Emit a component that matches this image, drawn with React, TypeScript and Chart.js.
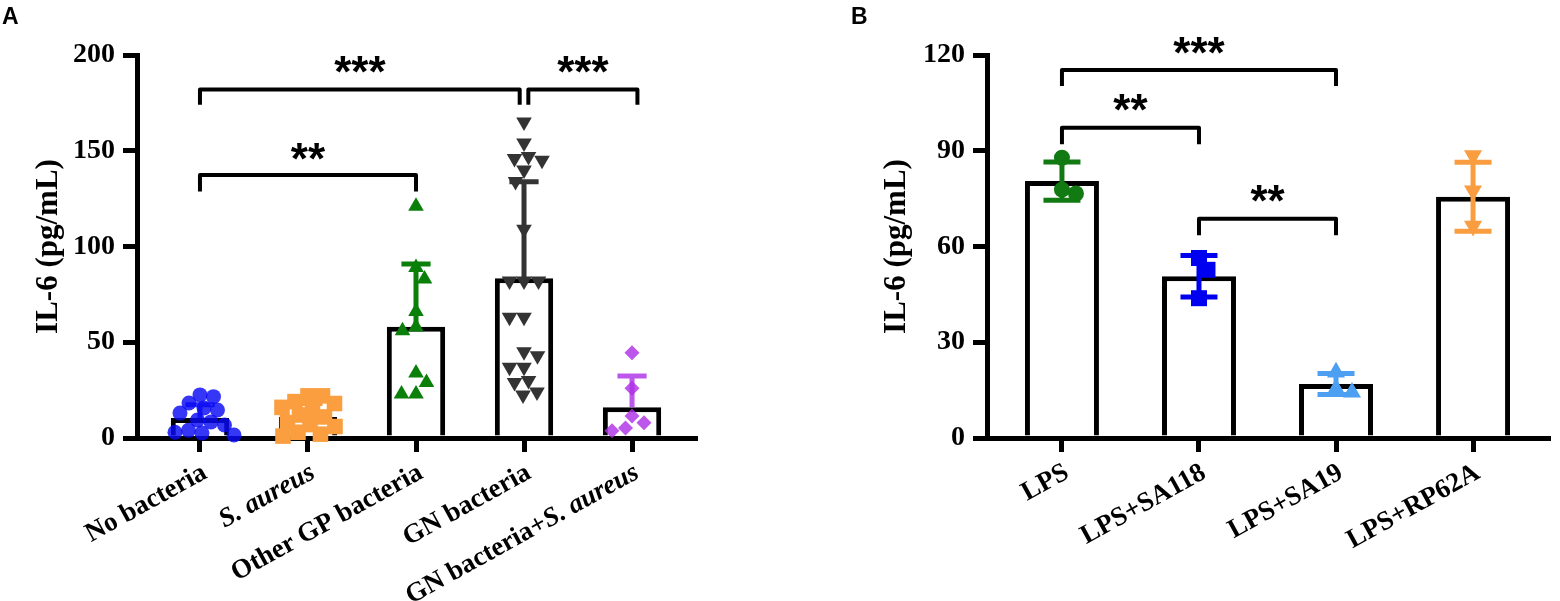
import { useEffect, useRef } from 'react';
import { Chart, registerables } from 'chart.js';
import type { Plugin, PointStyle } from 'chart.js';

Chart.register(...registerables);

// ---- Panel A: IL-6 by bacterial group ----
const CATEGORIES_A = ['No bacteria', 'S. aureus', 'Other GP bacteria', 'GN bacteria', 'GN bacteria+S. aureus'];
const NO_BACTERIA = [22.5, 21.6, 18.3, 15.7, 14.6, 13, 9.4, 8.4, 6.8, 4, 3, 2.6, 1.6];
const S_AUREUS = [22, 22, 19, 18, 16, 15, 12, 11, 8, 7, 6, 3, 2, 1];
const OTHER_GP = [121, 89, 83, 66, 58, 56, 34, 29, 23, 23];
const GN_BACTERIA = [165, 154, 147, 146, 145, 140, 134, 109, 82, 82, 82, 63, 63, 45, 43, 37, 37, 30, 29, 24, 22.5];
const GN_PLUS_SA = [44.5, 26, 11.5, 8, 5.2, 3.8];
const MEAN_A = [10.4, 11, 58.1, 83.4, 16];
const SD_A = [7, 7, 32.8, 50.4, 16.4];
const Y_TICKS_A = [0, 50, 100, 150, 200];
const BRACKETS_A = [
  { from: 0, to: 2.96, top: 182, leg: 174, stars: '***', starY: 194.8 },
  { from: 3.04, to: 4.05, top: 182, leg: 174, stars: '***', starY: 194.8 },
  { from: 0, to: 2, top: 137.4, leg: 128.7, stars: '**', starY: 149.6 },
];

// ---- Panel B: IL-6 with LPS ----
const CATEGORIES_B = ['LPS', 'LPS+SA118', 'LPS+SA19', 'LPS+RP62A'];
const LPS = [87.8, 76.6, 77.8];
const LPS_SA118 = [56.4, 52.7, 43.8];
const LPS_SA19 = [20.6, 14.3, 15.4];
const LPS_RP62A = [88.5, 77.5, 66.4];
const MEAN_B = [80.5, 50.7, 16.9, 75.6];
const SD_B = [6, 6.5, 3.3, 10.8];
const Y_TICKS_B = [0, 30, 60, 90, 120];
const BRACKETS_B = [
  { from: 0, to: 2, top: 115.3, leg: 110.3, stars: '***', starY: 123 },
  { from: 0, to: 1, top: 97.2, leg: 92, stars: '**', starY: 105 },
  { from: 1, to: 2, top: 68.7, leg: 63.5, stars: '**', starY: 76.6 },
];

const ITALIC_TERM = 'S. aureus';
const SERIF = '"Liberation Serif", "Times New Roman", serif';
const SANS = '"Liberation Sans", Arial, sans-serif';
const PLOT_TOP = 55;
const PLOT_BOTTOM = 438;
const LINE = 5;

interface Bracket {
  from: number;
  to: number;
  top: number;
  leg: number;
  stars: string;
  starY: number;
}

interface PanelSpec {
  letter: string;
  left: number;
  width: number;
  axisLeft: number;
  axisRight: number;
  xPad: number;
  categories: string[];
  series: number[][];
  means: number[];
  sds: number[];
  yTicks: number[];
  brackets: Bracket[];
  bothSides: boolean;
  colors: string[];
  styles: PointStyle[];
  rotations: number[];
  radii: number[];
}

const PANEL_A: PanelSpec = {
  letter: 'A',
  left: 0,
  width: 720,
  axisLeft: 137,
  axisRight: 695,
  xPad: 0.583,
  categories: CATEGORIES_A,
  series: [NO_BACTERIA, S_AUREUS, OTHER_GP, GN_BACTERIA, GN_PLUS_SA],
  means: MEAN_A,
  sds: SD_A,
  yTicks: Y_TICKS_A,
  brackets: BRACKETS_A,
  bothSides: false,
  colors: ['rgba(10,10,245,0.82)', '#FA9E3F', '#0A7F0A', '#333333', 'rgba(175,50,230,0.82)'],
  styles: ['circle', 'rect', 'triangle', 'triangle', 'rectRot'],
  rotations: [0, 0, 0, 180, 0],
  radii: [7.5, 11, 9, 9, 7.5],
};

const PANEL_B: PanelSpec = {
  letter: 'B',
  left: 848,
  width: 712,
  axisLeft: 139,
  axisRight: 700,
  xPad: 0.547,
  categories: CATEGORIES_B,
  series: [LPS, LPS_SA118, LPS_SA19, LPS_RP62A],
  means: MEAN_B,
  sds: SD_B,
  yTicks: Y_TICKS_B,
  brackets: BRACKETS_B,
  bothSides: true,
  colors: ['#127A12', '#0000F0', '#4D9FF2', '#F99D40'],
  styles: ['circle', 'rect', 'triangle', 'triangle'],
  rotations: [0, 0, 0, 180],
  radii: [8, 11.3, 10.4, 10.4],
};

function labelParts(label: string) {
  const k = label.indexOf(ITALIC_TERM);
  if (k < 0) return [{ text: label, italic: false }];
  return [
    { text: label.slice(0, k), italic: false },
    { text: ITALIC_TERM, italic: true },
    { text: label.slice(k + ITALIC_TERM.length), italic: false },
  ].filter((p) => p.text);
}

function markerWidth(style: PointStyle, r: number) {
  if (style === 'rect') return 2 * r * Math.SQRT1_2;
  if (style === 'triangle') return r * Math.sqrt(3);
  return 2 * r;
}

// simple beeswarm: highest values first, each point as close to the centre as it fits
function swarm(values: number[], pxPerUnit: number, gap: number): number[] {
  const order = values.map((_, i) => i).sort((a, b) => values[b] - values[a]);
  const placed: [number, number][] = [];
  const out = values.map(() => 0);
  for (const i of order) {
    const y = values[i] * pxPerUnit;
    const free = (x: number) => placed.every(([px, py]) => Math.hypot(px - x, py - y) >= gap);
    const bias = placed.reduce((s, p) => s + p[0], 0) > 0 ? -1 : 1;
    let x = 0;
    for (let d = 0; d < 200; d += 0.5) {
      if (free(bias * d)) { x = bias * d; break; }
      if (free(-bias * d)) { x = -bias * d; break; }
    }
    placed.push([x, y]);
    out[i] = x;
  }
  return out;
}

function Panel({ spec }: { spec: PanelSpec }) {
  const canvasRef = useRef<HTMLCanvasElement>(null);

  useEffect(() => {
    if (!canvasRef.current) return;
    const ctx = canvasRef.current.getContext('2d');
    if (!ctx) return;

    const n = spec.categories.length;

    const errorBars: Plugin = {
      id: 'errorBars',
      afterDatasetDraw(chart, args) {
        if (args.index !== 0) return;
        const { ctx: c, scales } = chart;
        const meta = chart.getDatasetMeta(0);
        c.save();
        c.lineWidth = LINE;
        c.lineCap = 'butt';
        spec.means.forEach((m, i) => {
          const x = scales.x.getPixelForValue(i);
          const half = ((meta.data[i] as any).width as number) * 0.25;
          const yHi = scales.y.getPixelForValue(m + spec.sds[i]);
          const yLo = scales.y.getPixelForValue(spec.bothSides ? m - spec.sds[i] : m);
          c.strokeStyle = spec.colors[i];
          c.beginPath();
          c.moveTo(x, yLo);
          c.lineTo(x, yHi);
          c.moveTo(x - half, yHi);
          c.lineTo(x + half, yHi);
          if (spec.bothSides) {
            c.moveTo(x - half, yLo);
            c.lineTo(x + half, yLo);
          }
          c.stroke();
        });
        c.restore();
      },
    };

    const decorations: Plugin = {
      id: 'decorations',
      afterDraw(chart) {
        const { ctx: c, scales, chartArea } = chart;
        c.save();
        c.fillStyle = '#000';
        c.strokeStyle = '#000';

        // category labels, rotated, with the species name in italics
        const angle = (29 * Math.PI) / 180;
        spec.categories.forEach((label, i) => {
          const parts = labelParts(label);
          const fonts = parts.map((p) => `${p.italic ? 'italic ' : ''}bold 27px ${SERIF}`);
          const widths = parts.map((p, k) => {
            c.font = fonts[k];
            return c.measureText(p.text).width;
          });
          const total = widths.reduce((a, b) => a + b, 0);
          c.save();
          c.translate(scales.x.getPixelForValue(i) + 5, chartArea.bottom + 33);
          c.rotate(-angle);
          c.textBaseline = 'middle';
          c.textAlign = 'left';
          let x = -total;
          parts.forEach((p, k) => {
            c.font = fonts[k];
            c.fillText(p.text, x, 0);
            x += widths[k];
          });
          c.restore();
        });

        // significance brackets
        c.lineWidth = LINE - 1;
        c.lineJoin = 'round';
        spec.brackets.forEach((b) => {
          const x1 = scales.x.getPixelForValue(b.from);
          const x2 = scales.x.getPixelForValue(b.to);
          const yTop = scales.y.getPixelForValue(b.top);
          const yLeg = scales.y.getPixelForValue(b.leg);
          c.beginPath();
          c.moveTo(x1, yLeg);
          c.lineTo(x1, yTop);
          c.lineTo(x2, yTop);
          c.lineTo(x2, yLeg);
          c.stroke();

          c.font = `bold 44px ${SANS}`;
          c.textAlign = 'center';
          c.textBaseline = 'alphabetic';
          const m = c.measureText(b.stars);
          const mid = (m.actualBoundingBoxAscent - m.actualBoundingBoxDescent) / 2;
          c.fillText(b.stars, (x1 + x2) / 2, scales.y.getPixelForValue(b.starY) + mid);
        });

        // panel letter
        c.font = `bold 23px ${SANS}`;
        c.textAlign = 'left';
        c.textBaseline = 'alphabetic';
        c.fillText(spec.letter, spec.left === 0 ? 2 : 3, 23.5);
        c.restore();
      },
    };

    const chart = new Chart(ctx, {
      type: 'bar',
      data: {
        datasets: [
          {
            type: 'bar',
            data: spec.means.map((m, i) => ({ x: i, y: m })),
            backgroundColor: '#ffffff',
            borderColor: '#000000',
            borderWidth: LINE,
            borderSkipped: 'bottom',
            barPercentage: 0.54,
            categoryPercentage: 1,
            order: 10,
          } as any,
          ...spec.series.map((vals, g) => ({
            type: 'scatter' as const,
            data: vals.map((v) => ({ x: g, y: v })),
            pointStyle: spec.styles[g],
            pointRotation: spec.rotations[g],
            pointRadius: spec.radii[g],
            pointBackgroundColor: spec.colors[g],
            backgroundColor: spec.colors[g],
            pointBorderWidth: 0,
            borderWidth: 0,
            clip: false as any,
            order: 1,
          })),
        ],
      },
      options: {
        responsive: false,
        animation: false,
        events: [],
        layout: {
          padding: {
            left: 0,
            top: PLOT_TOP,
            right: spec.width - spec.axisRight,
            bottom: 601 - PLOT_BOTTOM - 14,
          },
        },
        plugins: {
          legend: { display: false },
          tooltip: { enabled: false },
        },
        scales: {
          x: {
            type: 'linear',
            offset: false,
            min: -spec.xPad,
            max: n - 1 + spec.xPad,
            afterBuildTicks: (scale: any) => {
              scale.ticks = spec.categories.map((_, i) => ({ value: i }));
            },
            ticks: { display: false },
            grid: {
              display: true,
              offset: false,
              drawOnChartArea: false,
              drawTicks: true,
              tickLength: 14,
              tickWidth: LINE,
              lineWidth: LINE,
              tickColor: '#000',
            },
            border: { display: true, width: LINE, color: '#000' },
          },
          y: {
            min: spec.yTicks[0],
            max: spec.yTicks[spec.yTicks.length - 1],
            afterBuildTicks: (scale: any) => {
              scale.ticks = spec.yTicks.map((v) => ({ value: v }));
            },
            afterFit: (scale: any) => {
              scale.width = spec.axisLeft;
            },
            ticks: {
              color: '#000',
              padding: 8,
              font: { family: SERIF, weight: 'bold', size: 28 },
            },
            grid: {
              display: true,
              drawOnChartArea: false,
              drawTicks: true,
              tickLength: 14,
              tickWidth: LINE,
              lineWidth: LINE,
              tickColor: '#000',
            },
            border: { display: true, width: LINE, color: '#000' },
            title: {
              display: true,
              text: 'IL-6 (pg/mL)',
              color: '#000',
              font: { family: SERIF, weight: 'bold', size: 31 },
              padding: { top: 30, bottom: 0 },
            },
          },
        },
      },
      plugins: [errorBars, decorations],
    });

    // spread the dots of each group sideways so they do not hide one another
    const xs = chart.scales.x;
    const ys = chart.scales.y;
    const pxPerCat = xs.getPixelForValue(1) - xs.getPixelForValue(0);
    const pxPerUnit = ys.getPixelForValue(0) - ys.getPixelForValue(1);
    spec.series.forEach((vals, g) => {
      const gap = markerWidth(spec.styles[g], spec.radii[g]) * 0.9;
      const offs = swarm(vals, pxPerUnit, gap);
      chart.data.datasets[g + 1].data = vals.map((v, j) => ({ x: g + offs[j] / pxPerCat, y: v }));
    });
    chart.update('none');

    return () => {
      chart.destroy();
    };
  }, [spec]);

  return (
    <div style={{ position: 'absolute', left: spec.left, top: 0, width: spec.width, height: 601 }}>
      <canvas ref={canvasRef} width={spec.width} height={601} style={{ display: 'block' }} />
    </div>
  );
}

export default function App() {
  return (
    <div style={{ position: 'fixed', left: 0, top: 0, width: 1560, height: 601, background: '#fff', overflow: 'hidden' }}>
      <Panel spec={PANEL_A} />
      <Panel spec={PANEL_B} />
    </div>
  );
}
